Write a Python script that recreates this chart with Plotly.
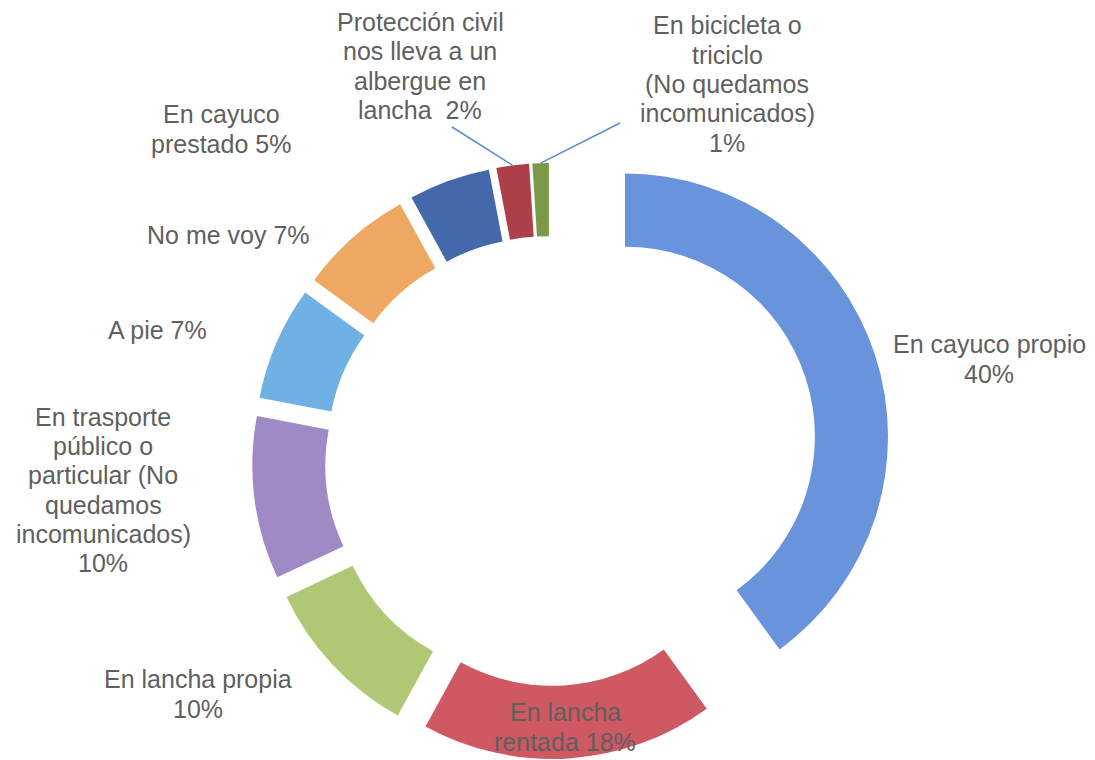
import math
import plotly.graph_objects as go

# Survey answers: how people leave when the area floods
categories = [
    "En cayuco propio",
    "En lancha rentada",
    "En lancha propia",
    "En trasporte público o particular (No quedamos incomunicados)",
    "A pie",
    "No me voy",
    "En cayuco prestado",
    "Protección civil nos lleva a un albergue en lancha",
    "En bicicleta o triciclo (No quedamos incomunicados)",
]
percentages = [40, 18, 10, 10, 7, 7, 5, 2, 1]

# Wrapped label text; {p} is replaced by the slice percentage
label_templates = [
    ["En cayuco propio", "{p}"],
    ["En lancha", "rentada {p}"],
    ["En lancha propia", "{p}"],
    ["En trasporte", "público o", "particular (No", "quedamos", "incomunicados)", "{p}"],
    ["A pie {p}"],
    ["No me voy {p}"],
    ["En cayuco", "prestado {p}"],
    ["Protección civil", "nos lleva a un", "albergue en", "lancha  {p}"],
    ["En bicicleta o", "triciclo", "(No quedamos", "incomunicados)", "{p}"],
]

slice_colors = [
    "#6993da", "#cf5963", "#b0c875", "#9f8ac6", "#6fb1e4",
    "#efa764", "#4369aa", "#ad3f49", "#7b9a47",
]

# Layout (pixels)
W, H = 1095, 760
CX, CY = 550, 461          # centre of the ring before explosion
R = 263                    # outer radius
HOLE = 0.722
PULL = 0.133               # explosion of the small slices
PULL_MAIN = 0.30           # explosion of the largest slice

label_centres = [
    (989, 359), (565, 727), (198, 694), (103, 490), (157, 330),
    (228, 235), (221, 129), (420, 66), (727, 84),
]
leader_starts = {7: (452, 127), 8: (620, 123)}
LINE_PITCH = 29.3
TEXT_COLOR = "#5f5f5f"
FONT = "Liberation Sans, Arial, sans-serif"
FONT_SIZE = 25

total = float(sum(percentages))
mid_angles = []
acc = 0.0
for v in percentages:
    mid_angles.append((acc + v / 2.0) / total * 360.0)
    acc += v


def unit(deg):
    a = math.radians(deg)
    return math.sin(a), -math.cos(a)   # screen direction, y pointing down


def domain_for(cx, cy, half):
    return dict(x=[(cx - half) / W, (cx + half) / W],
                y=[1 - (cy + half) / H, 1 - (cy - half) / H])


transparent = "rgba(0,0,0,0)"
fig = go.Figure()

# Largest slice, drawn on its own ring shifted along its mid-angle
ux, uy = unit(mid_angles[0])
main_cx = CX + ux * PULL_MAIN * R
main_cy = CY + uy * PULL_MAIN * R
fig.add_trace(go.Pie(
    labels=categories, values=percentages, sort=False, direction="clockwise",
    rotation=0, hole=HOLE, textinfo="none", showlegend=False,
    marker=dict(colors=[slice_colors[0]] + [transparent] * (len(percentages) - 1)),
    domain=domain_for(main_cx, main_cy, R),
    hovertemplate="%{label}: %{value}%<extra></extra>",
))

# Remaining slices, each pulled slightly away from the centre
fig.add_trace(go.Pie(
    labels=categories, values=percentages, sort=False, direction="clockwise",
    rotation=0, hole=HOLE, textinfo="none", showlegend=False,
    marker=dict(colors=[transparent] + slice_colors[1:]),
    pull=[0] + [PULL] * (len(percentages) - 1),
    domain=domain_for(CX, CY, R * (1 + PULL)),
    hovertemplate="%{label}: %{value}%<extra></extra>",
))

annotations = []
for i, (tmpl, (lx, ly)) in enumerate(zip(label_templates, label_centres)):
    lines = [t.format(p=f"{percentages[i]}%") for t in tmpl]
    n = len(lines)
    for k, line in enumerate(lines):
        y = ly + (k - (n - 1) / 2.0) * LINE_PITCH
        annotations.append(dict(
            x=lx / W, y=1 - y / H, xref="paper", yref="paper",
            text=line, showarrow=False, xanchor="center", yanchor="middle",
            font=dict(family=FONT, size=FONT_SIZE, color=TEXT_COLOR),
        ))

shapes = []
for i, (sx, sy) in leader_starts.items():
    dx, dy = unit(mid_angles[i])
    ex = CX + dx * (PULL * R + R)
    ey = CY + dy * (PULL * R + R)
    shapes.append(dict(
        type="line", xref="paper", yref="paper",
        x0=sx / W, y0=1 - sy / H, x1=ex / W, y1=1 - ey / H,
        line=dict(color="#5b8bd0", width=1.5),
    ))

fig.update_layout(
    width=W, height=H,
    margin=dict(l=0, r=0, t=0, b=0),
    paper_bgcolor="white", plot_bgcolor="white",
    annotations=annotations, shapes=shapes,
)

fig.write_html("out.html")
